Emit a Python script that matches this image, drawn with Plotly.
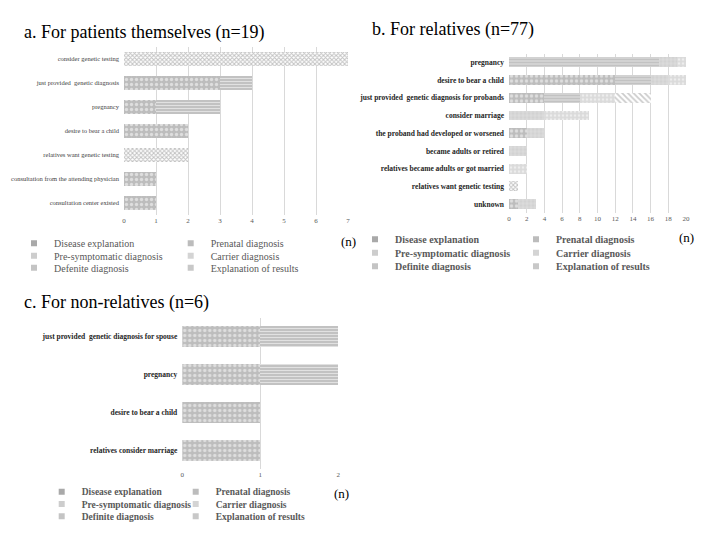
import plotly.graph_objects as go

# ---------------- data ----------------
support_types = ["Disease explanation", "Prenatal diagnosis", "Pre-symptomatic diagnosis",
                 "Carrier diagnosis", "Defenite diagnosis", "Explanation of results"]
support_types_bc = ["Disease explanation", "Prenatal diagnosis", "Pre-symptomatic diagnosis",
                    "Carrier diagnosis", "Definite diagnosis", "Explanation of results"]

# a. For patients themselves (n=19)
a_reasons = ["consider genetic testing", "just provided  genetic diagnosis", "pregnancy",
             "desire to bear a child", "relatives want genetic testing",
             "consultation from the attending physician", "consultation center existed"]
a_disease = [0, 3, 1, 2, 0, 1, 1]
a_prenatal = [0, 1, 2, 0, 0, 0, 0]
a_presym = [0, 0, 0, 0, 0, 0, 0]
a_carrier = [0, 0, 0, 0, 0, 0, 0]
a_definite = [7, 0, 0, 0, 2, 0, 0]
a_explain = [0, 0, 0, 0, 0, 0, 0]

# b. For relatives (n=77)
b_reasons = ["pregnancy", "desire to bear a child", "just provided  genetic diagnosis for probands",
             "consider marriage", "the proband had developed or worsened", "became adults or retired",
             "relatives became adults or got married", "relatives want genetic testing", "unknown"]
b_disease = [0, 12, 4, 0, 2, 0, 0, 0, 1]
b_prenatal = [17, 4, 4, 0, 0, 0, 0, 0, 0]
b_presym = [2, 2, 0, 4, 2, 2, 0, 0, 2]
b_carrier = [1, 2, 4, 5, 0, 0, 2, 0, 0]
b_definite = [0, 0, 0, 0, 0, 0, 0, 1, 0]
b_explain = [0, 0, 4, 0, 0, 0, 0, 0, 0]

# c. For non-relatives (n=6)
c_reasons = ["just provided  genetic diagnosis for spouse", "pregnancy",
             "desire to bear a child", "relatives consider marriage"]
c_disease = [1, 1, 1, 1]
c_prenatal = [1, 1, 0, 0]
c_presym = [0, 0, 0, 0]
c_carrier = [0, 0, 0, 0]
c_definite = [0, 0, 0, 0]
c_explain = [0, 0, 0, 0]

a_ticks = [0, 1, 2, 3, 4, 5, 6, 7]
b_ticks = [0, 2, 4, 6, 8, 10, 12, 14, 16, 18, 20]
c_ticks = [0, 1, 2]

titles = ["a. For patients themselves (n=19)", "b. For relatives (n=77)", "c. For non-relatives (n=6)"]

# ---------------- styles ----------------
OFF = 8                      # page body margin offset
W, H = 720 - OFF, 540 - OFF
SERIF = "Liberation Serif, Times New Roman, serif"

patterns = [
    dict(shape=".", bgcolor="#bdbdbd", fgcolor="#ffffff", size=5, solidity=0.35, fillmode="overlay"),
    dict(shape="-", bgcolor="#c2c2c2", fgcolor="#ffffff", size=3, solidity=0.35, fillmode="overlay"),
    dict(shape="+", bgcolor="#d2d2d2", fgcolor="#f4f4f4", size=4, solidity=0.3, fillmode="overlay"),
    dict(shape=".", bgcolor="#dadada", fgcolor="#ffffff", size=4, solidity=0.35, fillmode="overlay"),
    dict(shape="x", bgcolor="#ffffff", fgcolor="#858585", size=3, solidity=0.55, fillmode="overlay"),
    dict(shape="\\", bgcolor="#ffffff", fgcolor="#999999", size=4, solidity=0.45, fillmode="overlay"),
]
legend_marker_colors = ["#a9a9a9", "#bcbcbc", "#cdcdcd", "#d4d4d4", "#c4c4c4", "#c8c8c8"]

def px_x(v):
    return (v - OFF) / W

def px_y(v):
    return 1 - (v - OFF) / H

panels = [
    dict(reasons=a_reasons, series=[a_disease, a_prenatal, a_presym, a_carrier, a_definite, a_explain],
         names=support_types, ticks=a_ticks, rng=[0, 7], xdom=[124, 348], ydom=[47, 215],
         bold=False, labsize=6.5, title_xy=(22, 32), n_xy=(348, 241),
         leg_rows=[243.3, 255.7, 267.7], leg_x=54, leg_dx=156.7, leg_size=10),
    dict(reasons=b_reasons, series=[b_disease, b_prenatal, b_presym, b_carrier, b_definite, b_explain],
         names=support_types_bc, ticks=b_ticks, rng=[0, 20], xdom=[509, 686], ydom=[53.5, 213],
         bold=True, labsize=7.5, title_xy=(370, 30), n_xy=(686, 238),
         leg_rows=[239.3, 252.7, 266.3], leg_x=395, leg_dx=161, leg_size=10),
    dict(reasons=c_reasons, series=[c_disease, c_prenatal, c_presym, c_carrier, c_definite, c_explain],
         names=support_types_bc, ticks=c_ticks, rng=[0, 2], xdom=[182.3, 338.3], ydom=[318, 469],
         bold=True, labsize=7.5, title_xy=(22, 302), n_xy=(341, 493),
         leg_rows=[491.7, 504, 516.3], leg_x=81.7, leg_dx=134, leg_size=9.5),
]

fig = go.Figure()
layout = dict(width=W, height=H, margin=dict(l=0, r=0, t=0, b=0, autoexpand=False),
              paper_bgcolor="white", plot_bgcolor="white", barmode="stack", bargap=0.44,
              font=dict(family=SERIF, color="#404040"), annotations=[])

for p, pan in enumerate(panels):
    ax = "" if p == 0 else str(p + 1)
    xref, yref = "x" + ax, "y" + ax
    for i, (vals, name) in enumerate(zip(pan["series"], pan["names"])):
        leg_idx = p * 3 + i // 2 + 1
        legname = "legend" if leg_idx == 1 else f"legend{leg_idx}"
        label = f"<b>{name}</b>" if pan["bold"] else name
        fig.add_trace(go.Bar(
            y=pan["reasons"], x=vals, name=label, orientation="h",
            xaxis=xref, yaxis=yref, showlegend=False,
            marker=dict(color=patterns[i]["bgcolor"], pattern=patterns[i], line=dict(width=0)),
            hoverinfo="x+y+name",
        ))
        # small legend key (like the original's tiny patterned squares)
        fig.add_trace(go.Scatter(
            x=[None], y=[None], mode="markers", name=label,
            xaxis=xref, yaxis=yref, legend=legname, showlegend=True,
            marker=dict(symbol="square", size=6, color=legend_marker_colors[i]),
            hoverinfo="skip",
        ))
    for r, ry in enumerate(pan["leg_rows"]):
        leg_idx = p * 3 + r + 1
        legname = "legend" if leg_idx == 1 else f"legend{leg_idx}"
        layout[legname] = dict(
            orientation="h", x=px_x(pan["leg_x"] - 40), y=px_y(ry), xanchor="left", yanchor="middle",
            entrywidth=pan["leg_dx"] - 45, entrywidthmode="pixels", itemwidth=30,
            bgcolor="rgba(0,0,0,0)", borderwidth=0, traceorder="normal",
            font=dict(family=SERIF, size=pan["leg_size"], color="#595959"),
            itemclick=False, itemdoubleclick=False,
        )
    layout["xaxis" + ax] = dict(
        domain=[px_x(pan["xdom"][0]), px_x(pan["xdom"][1])], anchor="y" + ax,
        range=pan["rng"], tickvals=pan["ticks"], showgrid=True, gridcolor="#d9d9d9", gridwidth=1,
        zeroline=False, showline=False, ticks="", automargin=False,
        tickfont=dict(family=SERIF, size=7, color="#595959"), fixedrange=True,
    )
    lab_font = dict(family=SERIF, size=pan["labsize"], color="#262626" if pan["bold"] else "#404040")
    layout["yaxis" + ax] = dict(
        domain=[px_y(pan["ydom"][1]), px_y(pan["ydom"][0])], anchor="x" + ax,
        type="category", categoryorder="array", categoryarray=pan["reasons"], autorange="reversed",
        showgrid=False, zeroline=False, showline=False, ticks="", ticklabelstandoff=4,
        tickfont=lab_font, fixedrange=True, automargin=False,
        tickvals=pan["reasons"],
        ticktext=[f"<b>{t}</b>" if pan["bold"] else t for t in pan["reasons"]],
    )
    tx, ty = pan["title_xy"]
    layout["annotations"].append(dict(
        text=titles[p], xref="paper", yref="paper", x=px_x(tx), y=px_y(ty),
        xanchor="left", yanchor="middle", showarrow=False,
        font=dict(family=SERIF, size=18, color="#000000"),
    ))
    nx, ny = pan["n_xy"]
    layout["annotations"].append(dict(
        text="(n)", xref="paper", yref="paper", x=px_x(nx), y=px_y(ny),
        xanchor="center", yanchor="middle", showarrow=False,
        font=dict(family=SERIF, size=13, color="#000000"),
    ))

fig.update_layout(**layout)
fig.write_html("out.html")
